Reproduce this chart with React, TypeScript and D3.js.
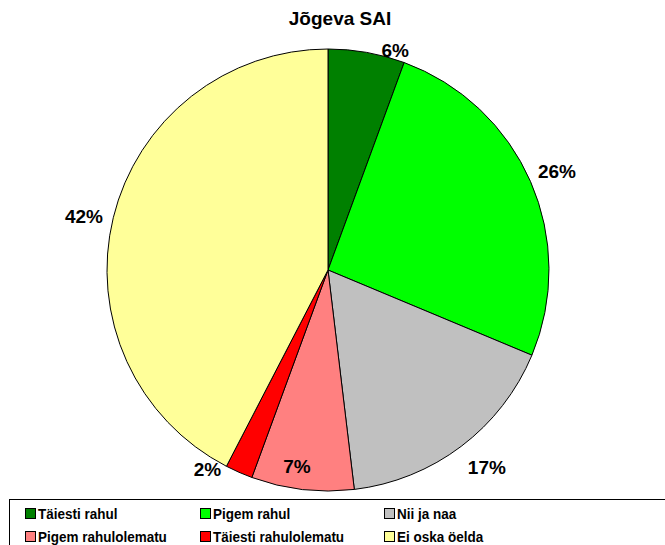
import React from "react";
import * as d3 from "d3";

const categories = [
  "Täiesti rahul",
  "Pigem rahul",
  "Nii ja naa",
  "Pigem rahulolematu",
  "Täiesti rahulolematu",
  "Ei oska öelda",
];
const values = [5.6, 25.7, 16.8, 7.5, 2.0, 42.4];
const percentLabels = ["6%", "26%", "17%", "7%", "2%", "42%"];
const colors = ["#008000", "#00FF00", "#C0C0C0", "#FF8080", "#FF0000", "#FFFF99"];
const title = "Jõgeva SAI";

// layout constants (label polar positions: angle in degrees from top, radius in px)
const W = 665;
const H = 545;
const CX = 328;
const CY = 270;
const R = 221;
const labelPolar: [number, number][] = [
  [17, 230],
  [66.6, 249.5],
  [141.1, 253],
  [189, 198.5],
  [211.2, 232.6],
  [282.5, 250],
];
const FONT = "'Liberation Sans', Arial, sans-serif";

export default function App() {
  const pie = d3
    .pie<number>()
    .sort(null)
    .startAngle(0)
    .endAngle(2 * Math.PI)(values);
  const arc = d3.arc<d3.PieArcDatum<number>>().innerRadius(0).outerRadius(R);

  const legendCols = [25, 200, 384];
  const legendRows = [508, 531];

  return (
    <svg
      width={W}
      height={H}
      style={{ position: "absolute", left: 0, top: 0, background: "#fff" }}
      fontFamily={FONT}
    >
      <rect x={0} y={0} width={W} height={H} fill="#fff" />
      <text x={340} y={25} textAnchor="middle" fontSize={19} fontWeight="bold" fill="#000">
        {title}
      </text>
      <g transform={`translate(${CX},${CY})`}>
        {pie.map((d, i) => (
          <path key={i} d={arc(d) || ""} fill={colors[i]} stroke="#000" strokeWidth={1} />
        ))}
        {pie.map((d, i) => {
          const [a, r] = labelPolar[i];
          const rad = (a * Math.PI) / 180;
          const x = Math.sin(rad) * r;
          const y = -Math.cos(rad) * r;
          return (
            <text
              key={"l" + i}
              x={x}
              y={y}
              dy="0.36em"
              textAnchor="middle"
              fontSize={19}
              fontWeight="bold"
              fill="#000"
            >
              {percentLabels[i]}
            </text>
          );
        })}
      </g>
      <rect x={9.5} y={499.5} width={700} height={60} fill="#fff" stroke="#000" strokeWidth={1} />
      {categories.map((c, i) => {
        const col = i % 3;
        const row = Math.floor(i / 3);
        const x = legendCols[col];
        const y = legendRows[row];
        return (
          <g key={"lg" + i}>
            <rect x={x + 0.5} y={y + 0.5} width={10} height={10} fill={colors[i]} stroke="#000" strokeWidth={1} />
            <text
              transform={`translate(${x + 13},${y + 11}) scale(0.9,1)`}
              fontSize={15}
              fontWeight="bold"
              fill="#000"
            >
              {c}
            </text>
          </g>
        );
      })}
    </svg>
  );
}
